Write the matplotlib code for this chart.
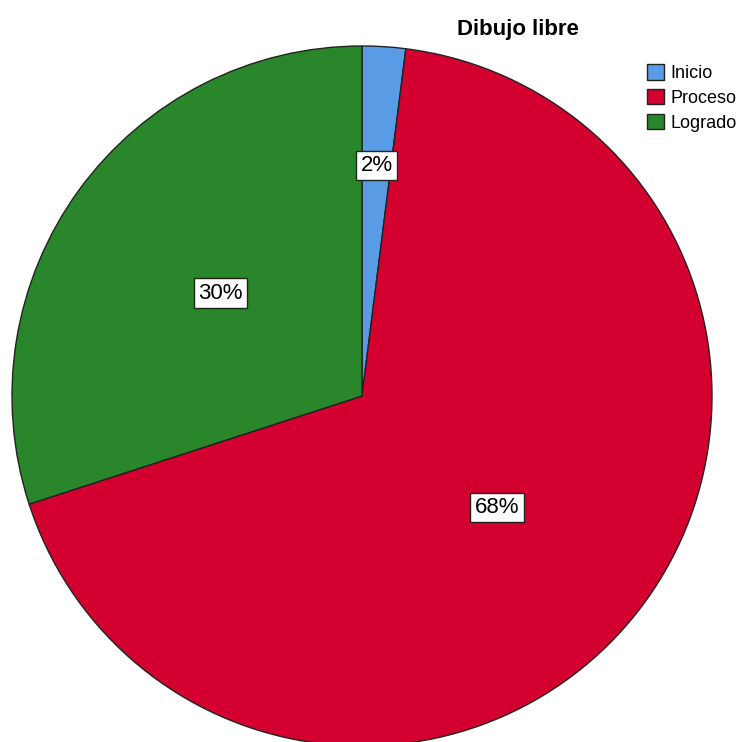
import numpy as np
import matplotlib.pyplot as plt

# Data
categories = ['Inicio', 'Proceso', 'Logrado']
counts = [1, 34, 15]
colors = ['#5A9BE6', '#D3002F', '#2A862A']
title = 'Dibujo libre'

plt.rcParams['font.family'] = ['Liberation Sans', 'DejaVu Sans']

fig = plt.figure(figsize=(7.44, 7.42), dpi=100)
ax = fig.add_axes([12 / 744, -4 / 742, 700 / 744, 700 / 742])

wedges, _ = ax.pie(counts, colors=colors, startangle=90, counterclock=False,
                   radius=1.0, wedgeprops=dict(edgecolor='#222222', linewidth=1.0))
ax.set_xlim(-1, 1)
ax.set_ylim(-1, 1)
ax.set_aspect('equal')

# percentage labels
total = sum(counts)
label_r = [0.66, 0.5, 0.5]
for w, c, r in zip(wedges, counts, label_r):
    ang = np.deg2rad((w.theta1 + w.theta2) / 2)
    ax.text(r * np.cos(ang), r * np.sin(ang), f'{round(100 * c / total)}%',
            ha='center', va='center', fontsize=16,
            bbox=dict(facecolor='white', edgecolor='#222222', linewidth=1.0,
                      boxstyle='square,pad=0.2'))

fig.text(518 / 744, 1 - 29 / 742, title, ha='center', va='center',
         fontsize=16, fontweight='bold')

fig.legend(wedges, categories, loc='upper left', bbox_to_anchor=(647 / 744, 1 - 64 / 742),
           frameon=False, fontsize=13, handlelength=0.95, handleheight=0.95,
           handletextpad=0.35, labelspacing=0.38, borderpad=0, borderaxespad=0)

fig.savefig('out.png', dpi=100)
